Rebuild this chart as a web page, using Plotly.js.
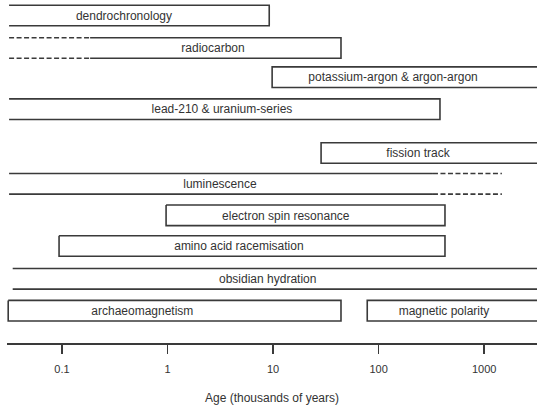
<!DOCTYPE html>
<html>
<head>
<meta charset="utf-8">
<script src="https://cdn.plot.ly/plotly-3.0.1.min.js"></script>
<style>
  html, body { margin: 0; padding: 0; background: #fff; }
  #chart { width: 537px; height: 407px; }
</style>
</head>
<body>
<div id="chart"></div>
<script>
// ---- data (ages in thousands of years) ----
const methods = [
  'dendrochronology',
  'radiocarbon',
  'potassium-argon & argon-argon',
  'lead-210 & uranium-series',
  'fission track',
  'luminescence',
  'electron spin resonance',
  'amino acid racemisation',
  'obsidian hydration',
  'archaeomagnetism',
  'magnetic polarity'
];
// solid range of each method
const ageFrom = [0.0316, 0.185, 9.8, 0.0316, 28.5, 0.0316, 0.97, 0.094, 0.0342, 0.031, 78];
const ageTo   = [9.2, 44, 3162, 381, 3162, 327, 425, 425, 3162, 44, 3162];
// uncertain (dashed) extensions, null when none
const dashFrom = [null, 0.0316, null, null, null, null, null, null, null, null, null];
const dashTo   = [null, null, null, null, null, 1470, null, null, null, null, null];
// whether the range has a definite end drawn as a box edge
const leftClosed  = [false, false, true, false, true, false, true, true, false, true, true];
const rightClosed = [true, true, false, true, false, false, true, true, false, true, false];
const tickVals  = [0.1, 1, 10, 100, 1000];
const tickText  = ['0.1', '1', '10', '100', '1000'];
const axisTitle = 'Age (thousands of years)';

// ---- layout helpers (row positions in plot pixels, label anchors) ----
const rowY    = [15.5, 48, 77.2, 109.2, 153, 183.8, 215.3, 246, 278.8, 310.7, 310.7];
const labelAt = [0.387, 2.7, 137, 3.28, 236, 3.14, 13.2, 4.75, 8.9, 0.578, 416];
const halfH = 10.3;
const labelDrop = 1.2;

const solidX = [], solidY = [], dashX = [], dashY = [];
function seg(X, Y, pts) {
  pts.forEach(p => { X.push(p[0]); Y.push(p[1]); });
  X.push(null); Y.push(null);
}
methods.forEach((m, i) => {
  const a = ageFrom[i], b = ageTo[i], t = rowY[i] - halfH, bt = rowY[i] + halfH;
  if (leftClosed[i] && rightClosed[i]) {
    seg(solidX, solidY, [[a, t], [b, t], [b, bt], [a, bt], [a, t]]);
  } else if (rightClosed[i]) {
    seg(solidX, solidY, [[a, t], [b, t], [b, bt], [a, bt]]);
  } else if (leftClosed[i]) {
    seg(solidX, solidY, [[b, t], [a, t], [a, bt], [b, bt]]);
  } else {
    seg(solidX, solidY, [[a, t], [b, t]]);
    seg(solidX, solidY, [[a, bt], [b, bt]]);
  }
  if (dashFrom[i] !== null) {
    seg(dashX, dashY, [[dashFrom[i], t], [a, t]]);
    seg(dashX, dashY, [[dashFrom[i], bt], [a, bt]]);
  }
  if (dashTo[i] !== null) {
    seg(dashX, dashY, [[b, t], [dashTo[i], t]]);
    seg(dashX, dashY, [[b, bt], [dashTo[i], bt]]);
  }
});

const ink = '#3a3a3a';
const traces = [
  { type: 'scatter', mode: 'lines', x: solidX, y: solidY, connectgaps: false,
    line: { color: ink, width: 1.6 }, hoverinfo: 'skip', showlegend: false },
  { type: 'scatter', mode: 'lines', x: dashX, y: dashY, connectgaps: false,
    line: { color: ink, width: 1.6, dash: '5px,2.5px' }, hoverinfo: 'skip', showlegend: false },
  { type: 'scatter', mode: 'text', x: labelAt, y: rowY.map(v => v + labelDrop), text: methods,
    textposition: 'middle center', cliponaxis: false,
    textfont: { family: 'Liberation Sans, Arial, sans-serif', size: 12, color: '#333' },
    hoverinfo: 'skip', showlegend: false }
];

const layout = {
  width: 537, height: 407,
  margin: { l: 7, r: 0, t: 0, b: 64 },
  paper_bgcolor: '#fff', plot_bgcolor: '#fff',
  showlegend: false,
  font: { family: 'Liberation Sans, Arial, sans-serif', color: '#333' },
  xaxis: {
    type: 'log', range: [-1.52, 3.5],
    tickvals: tickVals, ticktext: tickText,
    ticks: 'outside', ticklen: 9, tickwidth: 1.5, tickcolor: ink,
    showline: true, linecolor: ink, linewidth: 1.5,
    showgrid: false, zeroline: false,
    ticklabelstandoff: 6,
    tickfont: { size: 11, color: '#333' },
    title: { text: axisTitle, font: { size: 12, color: '#333' }, standoff: 20 },
    fixedrange: true
  },
  yaxis: { range: [343, 0], visible: false, fixedrange: true }
};

Plotly.newPlot('chart', traces, layout, { staticPlot: true, displayModeBar: false });
</script>
</body>
</html>
